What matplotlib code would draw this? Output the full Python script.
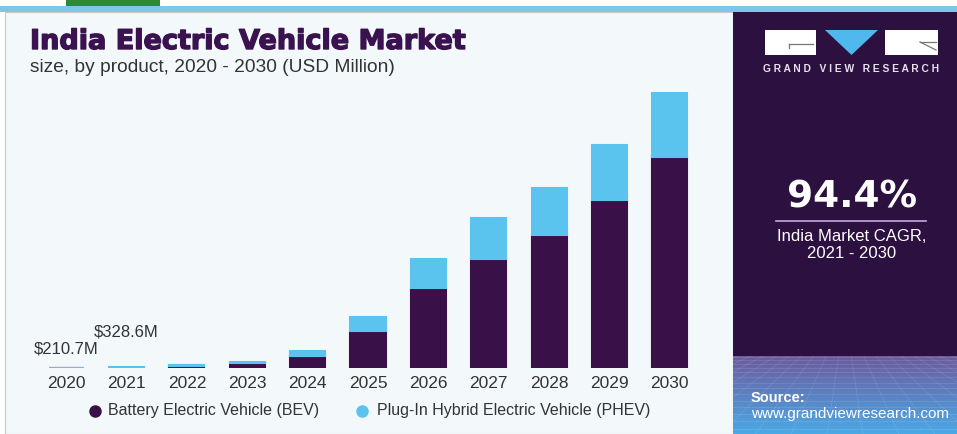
import numpy as np
import matplotlib
matplotlib.use("Agg")
import matplotlib.pyplot as plt
from matplotlib.patches import Rectangle, Polygon
from matplotlib.lines import Line2D
import matplotlib.patheffects as pe

# ---------------- data (USD Million) ----------------
years = ["2020", "2021", "2022", "2023", "2024", "2025", "2026", "2027", "2028", "2029", "2030"]
bev = [60, 110, 900, 2300, 5700, 17400, 37700, 51300, 62600, 79100, 99400]
phev = [150.7, 218.6, 700, 500, 2300, 6600, 13600, 19400, 22200, 25900, 30600]
annotations = {0: "$210.7M", 1: "$328.6M"}
series_names = ["Battery Electric Vehicle (BEV)", "Plug-In Hybrid Electric Vehicle (PHEV)"]
cagr_value = "94.4%"
cagr_label = "India Market CAGR,\n2021 - 2030"

BEV_C = "#3a1048"
PHEV_C = "#5ac4ee"
DARK = "#2c1040"
TXT = "#333333"
FONT = "Liberation Sans"

W, H = 957, 434
fig = plt.figure(figsize=(W / 100, H / 100), dpi=100)
fig.patch.set_facecolor("white")


def fx(x):
    return x / W


def fy(y):
    return 1 - y / H


def frect(x0, y0, x1, y1, **kw):
    r = Rectangle((fx(x0), fy(y1)), fx(x1) - fx(x0), fy(y0) - fy(y1),
                  transform=fig.transFigure, **kw)
    fig.add_artist(r)
    return r


# background blocks
frect(66, 0, 160, 6, facecolor="#2e8a2e", edgecolor="none", zorder=0)
frect(0, 6, W, 12, facecolor="#7cc6e8", edgecolor="none", zorder=0)
frect(5, 12, 733, H, facecolor="#f3f8fb", edgecolor="#c8c8c8", linewidth=0.8, zorder=0)
frect(733, 12, W, H, facecolor=DARK, edgecolor="none", zorder=0)

# gradient at the bottom of the right panel
gax = fig.add_axes([fx(733), fy(H), fx(W) - fx(733), fy(356) - fy(H)])
gax.set_axis_off()
t = np.linspace(0, 1, 80)[:, None]
top = np.array([0.42, 0.36, 0.62])
bot = np.array([0.30, 0.66, 0.90])
grad = top[None, None, :] * (1 - t[..., None]) + bot[None, None, :] * t[..., None]
grad = np.repeat(grad, 50, axis=1)
gax.imshow(grad, aspect="auto", extent=[0, 1, 0, 1], origin="upper")
for k in np.linspace(0.05, 0.95, 14):
    gax.axhline(1 - k ** 1.4, color="white", alpha=0.12, lw=0.6)
for k in np.linspace(-1.5, 2.5, 26):
    gax.plot([0.5 + (k - 0.5) * 0.35, k], [1, 0], color="white", alpha=0.10, lw=0.6)
gax.set_xlim(0, 1)
gax.set_ylim(0, 1)

# ---------------- bar chart ----------------
ax = fig.add_axes([fx(36), fy(368), fx(700) - fx(36), fy(92) - fy(368)])
ax.set_facecolor("none")
x = np.arange(len(years))
bw = 0.58
ax.bar(x, bev, width=bw, color=BEV_C, edgecolor=BEV_C, linewidth=1.5, zorder=2)
ax.bar(x, phev, bottom=bev, width=bw, color=PHEV_C, edgecolor=PHEV_C, linewidth=1.5, zorder=2)
ax.set_xlim(-0.5, len(years) - 0.5)
ax.set_ylim(0, bev[-1] + phev[-1])
for s in ax.spines.values():
    s.set_visible(False)
ax.set_yticks([])
ax.set_xticks(x)
ax.set_xticklabels(years, fontsize=12.5, color=TXT, family=FONT)
ax.tick_params(axis="x", length=0, pad=6)

# value labels for first two years
offsets = {0: 8, 1: 20}
for i, lab in annotations.items():
    total = bev[i] + phev[i]
    ax.annotate(lab, (x[i], total), xytext=(0, offsets[i]), textcoords="offset points",
                ha="center", va="bottom", fontsize=12, color=TXT, family=FONT)

# ---------------- titles ----------------
fig.text(fx(30), fy(42), "India Electric Vehicle Market", fontsize=19.5, fontweight="bold",
         color="#3a1250", family="DejaVu Sans", va="center", ha="left",
         path_effects=[pe.withStroke(linewidth=1.0, foreground="#3a1250")])
fig.text(fx(30), fy(68), "size, by product, 2020 - 2030 (USD Million)", fontsize=13.8,
         color=TXT, family=FONT, va="center", ha="left")

# ---------------- legend ----------------
fig.add_artist(Line2D([fx(95)], [fy(411)], marker="o", markersize=8, color=BEV_C,
                      linestyle="none", transform=fig.transFigure))
fig.text(fx(108), fy(411), series_names[0], fontsize=11.5, color=TXT, family=FONT,
         va="center", ha="left")
fig.add_artist(Line2D([fx(362)], [fy(411)], marker="o", markersize=8, color=PHEV_C,
                      linestyle="none", transform=fig.transFigure))
fig.text(fx(377), fy(411), series_names[1], fontsize=11.5, color=TXT, family=FONT,
         va="center", ha="left")

# ---------------- right panel ----------------
frect(765, 30, 816, 55, facecolor="white", edgecolor="none", zorder=3)
frect(885, 30, 938, 55, facecolor="white", edgecolor="none", zorder=3)
tri = Polygon([(fx(825), fy(30)), (fx(878), fy(30)), (fx(851.5), fy(55))], closed=True,
              facecolor="#4fb8ec", edgecolor="none", transform=fig.transFigure, zorder=3)
fig.add_artist(tri)
fig.add_artist(Line2D([fx(789), fx(813)], [fy(44), fy(44)], color="#777777", lw=0.9,
                      transform=fig.transFigure, zorder=4))
fig.add_artist(Line2D([fx(789), fx(789)], [fy(44), fy(48)], color="#777777", lw=0.9,
                      transform=fig.transFigure, zorder=4))
fig.add_artist(Line2D([fx(920), fx(936)], [fy(42), fy(50)], color="#777777", lw=0.9,
                      transform=fig.transFigure, zorder=4))
fig.add_artist(Line2D([fx(920), fx(936)], [fy(42), fy(42)], color="#777777", lw=0.9,
                      transform=fig.transFigure, zorder=4))
fig.text(fx(851.5), fy(69), "G R A N D   V I E W   R E S E A R C H", fontsize=7.4,
         fontweight="bold", color="#e6e0ec", family=FONT, ha="center", va="center")

fig.text(fx(852), fy(198), cagr_value, fontsize=27, fontweight="bold", color="white",
         family="DejaVu Sans", ha="center", va="center")
fig.add_artist(Line2D([fx(776), fx(926)], [fy(221), fy(221)], color="#c8a8e0", lw=1.2,
                      transform=fig.transFigure))
fig.text(fx(852), fy(245), cagr_label, fontsize=12, color="white", family=FONT,
         ha="center", va="center", linespacing=1.15)

fig.text(fx(751), fy(398), "Source:", fontsize=10.5, fontweight="bold", color="white",
         family=FONT, ha="left", va="center")
fig.text(fx(751), fy(414), "www.grandviewresearch.com", fontsize=11, color="white",
         family=FONT, ha="left", va="center")

fig.savefig("out.png", dpi=100)
